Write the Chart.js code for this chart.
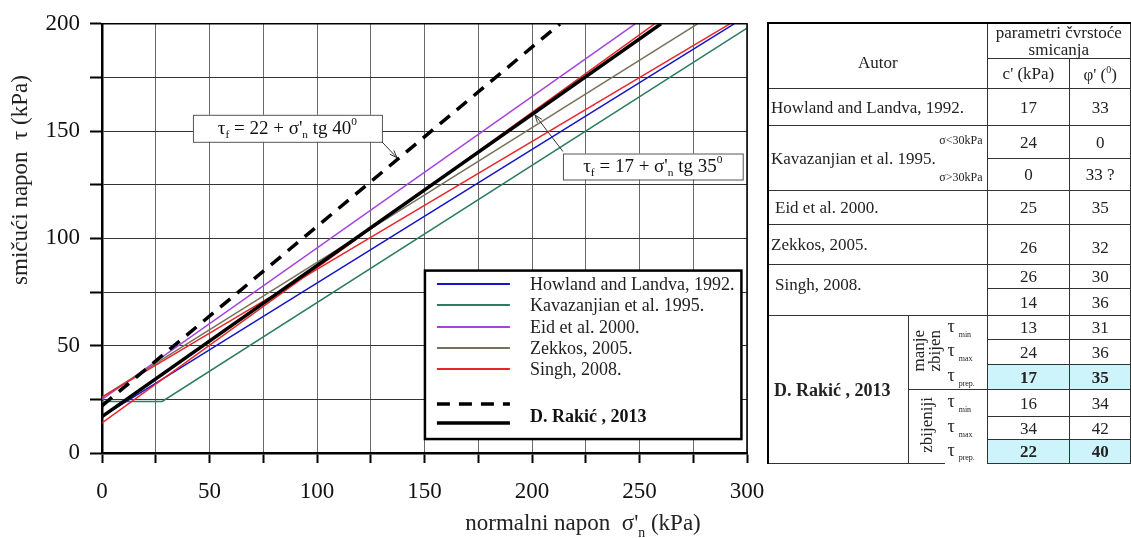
<!DOCTYPE html>
<html>
<head>
<meta charset="utf-8">
<script src="https://cdn.jsdelivr.net/npm/chart.js@4.4.1/dist/chart.umd.min.js"></script>
<style>
  body { margin: 0; background: #fff; width: 1131px; height: 538px; overflow: hidden; font-family: 'Liberation Serif', serif; }
  #wrap { position: absolute; left: 0; top: 0; width: 800px; height: 538px; }
  #tab { position: absolute; left: 767px; top: 22px; border-collapse: collapse; table-layout: fixed; font-size: 17px; color: #222; border-left: 2px solid #000; border-top: 2px solid #000; }
  #tab td { border: 1px solid #333; padding: 0; text-align: center; vertical-align: middle; line-height: 1; white-space: nowrap; }
  #tab td.l { text-align: left; padding-left: 2px; }
  #tab td.kav { position: relative; }
  #tab .s1, #tab .s2 { position: absolute; right: 4px; font-size: 12px; }
  #tab .s1 { top: 8px; }
  #tab .s2 { bottom: 7px; }
  #tab td.b { font-weight: bold; text-align: left; padding-left: 5px; font-size: 18px; }
  #tab td.v { border-right: none; font-size: 17px; line-height: 0.95; }
  #tab td.v span { display: inline-block; writing-mode: vertical-rl; transform: rotate(180deg); text-align: center; }
  #tab td.t { border-left: none; border-top: none; border-bottom: none; font-size: 18px; text-align: left; padding-left: 2px; }
  #tab td.t sub { font-size: 8px; margin-left: 4px; }
  #tab td.tt { border-top: 1px solid #333; }
  #tab td.hl { background: #cdf4fb; font-weight: bold; }
</style>
</head>
<body>
<div id="wrap"><canvas id="grafik" width="800" height="538"></canvas></div>

<table id="tab">
  <colgroup><col style="width:141px"><col style="width:37px"><col style="width:42px"><col style="width:83px"><col style="width:61px"></colgroup>
  <tr style="height:35px"><td colspan="3" rowspan="2" style="padding-top:12px">Autor</td><td colspan="2" style="line-height:1.0">parametri čvrstoće<br>smicanja</td></tr>
  <tr style="height:30px"><td>c' (kPa)</td><td>φ' (<sup style="font-size:10px">0</sup>)</td></tr>
  <tr style="height:37px"><td colspan="3" class="l">Howland and Landva, 1992.</td><td>17</td><td>33</td></tr>
  <tr style="height:33px"><td colspan="3" rowspan="2" class="l kav"><span class="s1">σ&lt;30kPa</span>Kavazanjian et al. 1995.<span class="s2">σ&gt;30kPa</span></td><td>24</td><td>0</td></tr>
  <tr style="height:32px"><td>0</td><td>33 ?</td></tr>
  <tr style="height:34px"><td colspan="3" class="l" style="padding-left:6px">Eid et al. 2000.</td><td>25</td><td>35</td></tr>
  <tr style="height:40px"><td colspan="3" class="l">Zekkos, 2005.</td><td style="padding-top:6px">26</td><td style="padding-top:6px">32</td></tr>
  <tr style="height:24px"><td colspan="3" rowspan="2" class="l" style="vertical-align:top;padding-top:11px;padding-left:6px">Singh, 2008.</td><td>26</td><td>30</td></tr>
  <tr style="height:27px"><td>14</td><td>36</td></tr>
  <tr style="height:24px"><td rowspan="6" class="b">D. Rakić , 2013</td><td rowspan="3" class="v"><span>manje<br>zbijen</span></td><td class="t">τ<sub>min</sub></td><td>13</td><td>31</td></tr>
  <tr style="height:25px"><td class="t">τ<sub>max</sub></td><td>24</td><td>36</td></tr>
  <tr style="height:25px"><td class="t">τ<sub>prep.</sub></td><td class="hl">17</td><td class="hl">35</td></tr>
  <tr style="height:27px"><td rowspan="3" class="v" style="border-top:1px solid #333"><span>zbijeniji</span></td><td class="t tt">τ<sub>min</sub></td><td>16</td><td>34</td></tr>
  <tr style="height:23px"><td class="t">τ<sub>max</sub></td><td>34</td><td>42</td></tr>
  <tr style="height:24px"><td class="t">τ<sub>prep.</sub></td><td class="hl">22</td><td class="hl">40</td></tr>
</table>

<script>
// nazivi autora (legenda)
const autori = ['Howland and Landva, 1992.', 'Kavazanjian et al. 1995.', 'Eid et al. 2000.', 'Zekkos, 2005.', 'Singh, 2008.', 'D. Rakić , 2013'];

// linije loma ocitane sa slike (sigma'n, tau)
const howlandX = [0, 294];
const howlandY = [17, 200];
const kavazanjianX = [0, 28, 300];
const kavazanjianY = [24, 24, 198];
const eidX = [0, 248];
const eidY = [25, 200];
const zekkosX = [0, 277];
const zekkosY = [26, 200];
const singh1X = [0, 292];
const singh1Y = [26, 200];
const singh2X = [0, 257];
const singh2Y = [14, 200];
const rakicManjeX = [0, 260];
const rakicManjeY = [17, 200];
const rakicZbijeniX = [0, 213];
const rakicZbijeniY = [22, 200];

// podela osa
const xOznake = [0, 50, 100, 150, 200, 250, 300];
const yOznake = [0, 50, 100, 150, 200];

const FONT = "'Liberation Serif', 'Times New Roman', serif";
Chart.defaults.font.family = FONT;

const tacke = (xs, ys) => xs.map((x, i) => ({ x: x, y: ys[i] }));

const linija = (podaci, boja, debljina, red, crtice) => ({
  data: podaci,
  showLine: true,
  borderColor: boja,
  backgroundColor: boja,
  borderWidth: debljina,
  borderDash: crtice || [],
  pointRadius: 0,
  order: red,
});

// tekst sa indeksima: delovi [tekst, 'sub' | 'sup' | '']
const sirina = (ctx, delovi, vel) => {
  let w = 0;
  delovi.forEach(d => {
    const s = d[1] ? vel * 0.6 : vel;
    ctx.font = s + 'px ' + FONT;
    w += ctx.measureText(d[0]).width;
  });
  return w;
};

const pisi = (ctx, x, y, delovi, vel, bold) => {
  let px = x;
  delovi.forEach(d => {
    const s = d[1] ? vel * 0.6 : vel;
    ctx.font = (bold ? 'bold ' : '') + s + 'px ' + FONT;
    let dy = 0;
    if (d[1] === 'sub') dy = vel * 0.3;
    if (d[1] === 'sup') dy = -vel * 0.4;
    ctx.fillText(d[0], px, y + dy);
    px += ctx.measureText(d[0]).width;
  });
};

const strelica = (ctx, x1, y1, x2, y2) => {
  ctx.save();
  ctx.strokeStyle = '#333';
  ctx.lineWidth = 1;
  ctx.beginPath();
  ctx.moveTo(x1, y1);
  ctx.lineTo(x2, y2);
  const a = Math.atan2(y2 - y1, x2 - x1);
  ctx.moveTo(x2 - 8 * Math.cos(a - 0.35), y2 - 8 * Math.sin(a - 0.35));
  ctx.lineTo(x2, y2);
  ctx.lineTo(x2 - 8 * Math.cos(a + 0.35), y2 - 8 * Math.sin(a + 0.35));
  ctx.stroke();
  ctx.restore();
};

const okvirTekst = (ctx, xs, ys, x1, x2, yc, h, delovi, vel) => {
  const l = xs.getPixelForValue(x1);
  const r = xs.getPixelForValue(x2);
  const c = ys.getPixelForValue(yc);
  ctx.fillStyle = '#fff';
  ctx.fillRect(l, c - h / 2, r - l, h);
  ctx.strokeStyle = '#555';
  ctx.lineWidth = 1;
  ctx.strokeRect(l + 0.5, c - h / 2 + 0.5, r - l, h);
  ctx.fillStyle = '#111';
  ctx.textBaseline = 'middle';
  ctx.textAlign = 'left';
  const w = sirina(ctx, delovi, vel);
  pisi(ctx, (l + r) / 2 - w / 2, c + 1, delovi, vel);
};

const dodaci = {
  id: 'dodaci',
  afterDatasetsDraw(chart) {
    const ctx = chart.ctx;
    const xs = chart.scales.x;
    const ys = chart.scales.y;
    const ca = chart.chartArea;
    ctx.save();

    // okvir dijagrama
    ctx.strokeStyle = '#000';
    ctx.lineWidth = 1.5;
    ctx.beginPath();
    ctx.moveTo(ca.left, ca.top);
    ctx.lineTo(ca.right, ca.top);
    ctx.lineTo(ca.right, ca.bottom);
    ctx.stroke();

    // jednacine
    okvirTekst(ctx, xs, ys, 42.3, 130.2, 151.3, 27,
      [['τ', ''], ['f', 'sub'], [" = 22 + σ'", ''], ['n', 'sub'], [' tg 40', ''], ['0', 'sup']], 19);
    strelica(ctx, xs.getPixelForValue(130.2), ys.getPixelForValue(145), xs.getPixelForValue(137.2), ys.getPixelForValue(137.6));

    okvirTekst(ctx, xs, ys, 214.4, 298, 133.5, 26,
      [['τ', ''], ['f', 'sub'], [' = 17 + σ\'', ''], ['n', 'sub'], [' tg 35', ''], ['0', 'sup']], 19);
    strelica(ctx, xs.getPixelForValue(214.4), ys.getPixelForValue(140.5), xs.getPixelForValue(201.4), ys.getPixelForValue(157.5));

    // legenda
    const lx = xs.getPixelForValue(150.2);
    const rx = xs.getPixelForValue(297.4);
    const ty = ys.getPixelForValue(85);
    const by = ys.getPixelForValue(6.5);
    ctx.fillStyle = '#fff';
    ctx.fillRect(lx, ty, rx - lx, by - ty);
    ctx.strokeStyle = '#000';
    ctx.lineWidth = 2.5;
    ctx.strokeRect(lx, ty, rx - lx, by - ty);

    const ds = chart.data.datasets;
    const redovi = [284, 305, 327, 348, 369];
    ctx.textBaseline = 'middle';
    ctx.textAlign = 'left';
    for (let i = 0; i < 5; i++) {
      ctx.strokeStyle = ds[i].borderColor;
      ctx.lineWidth = 1.8;
      ctx.beginPath();
      ctx.moveTo(lx + 12, redovi[i]);
      ctx.lineTo(lx + 85, redovi[i]);
      ctx.stroke();
      ctx.fillStyle = '#222';
      ctx.font = '18px ' + FONT;
      ctx.fillText(autori[i], lx + 105, redovi[i] + 1);
    }
    ctx.strokeStyle = '#000';
    ctx.lineWidth = 3.5;
    ctx.setLineDash([13, 9]);
    ctx.beginPath();
    ctx.moveTo(lx + 12, 404);
    ctx.lineTo(lx + 85, 404);
    ctx.stroke();
    ctx.setLineDash([]);
    ctx.beginPath();
    ctx.moveTo(lx + 12, 423);
    ctx.lineTo(lx + 85, 423);
    ctx.stroke();
    ctx.fillStyle = '#111';
    ctx.font = 'bold 18px ' + FONT;
    ctx.fillText(autori[5], lx + 105, 417);

    // nazivi osa
    ctx.fillStyle = '#222';
    ctx.textBaseline = 'alphabetic';
    const xNaziv = [['normalni napon  σ\'', ''], ['n', 'sub'], [' (kPa)', '']];
    const wx = sirina(ctx, xNaziv, 23);
    pisi(ctx, 583 - wx / 2, 530, xNaziv, 23);

    ctx.translate(27, 180);
    ctx.rotate(-Math.PI / 2);
    const yNaziv = [['smičući napon  τ (kPa)', '']];
    const wy = sirina(ctx, yNaziv, 23);
    pisi(ctx, -wy / 2, 0, yNaziv, 23);
    ctx.restore();
  },
};

const osa = {
  font: { family: FONT, size: 23 },
  color: '#111',
};

new Chart(document.getElementById('grafik'), {
  type: 'scatter',
  data: {
    datasets: [
      linija(tacke(howlandX, howlandY), '#1515c8', 1.5, 5),
      linija(tacke(kavazanjianX, kavazanjianY), '#2b7d5e', 1.5, 6),
      linija(tacke(eidX, eidY), '#a444e0', 1.5, 4),
      linija(tacke(zekkosX, zekkosY), '#77705a', 1.5, 3),
      linija(tacke(singh1X, singh1Y), '#e8262a', 1.5, 2),
      linija(tacke(singh2X, singh2Y), '#e8262a', 1.5, 2),
      linija(tacke(rakicZbijeniX, rakicZbijeniY), '#000', 3.5, 1, [13, 9]),
      linija(tacke(rakicManjeX, rakicManjeY), '#000', 3.5, 0),
    ],
  },
  options: {
    responsive: false,
    animation: false,
    devicePixelRatio: 1,
    layout: { padding: { left: 0, right: 53, top: 20, bottom: 0 } },
    plugins: { legend: { display: false }, tooltip: { enabled: false } },
    scales: {
      x: {
        type: 'linear',
        min: 0,
        max: 300,
        ticks: {
          stepSize: 25,
          autoSkip: false,
          maxRotation: 0,
          padding: 15,
          font: osa.font,
          color: osa.color,
          callback: v => (xOznake.includes(v) ? v : ''),
        },
        grid: { color: '#6a6a6a', lineWidth: 1, tickLength: 10, tickColor: '#000', tickWidth: 2 },
        border: { color: '#000', width: 2.5 },
        afterFit: s => { s.height = 85; },
      },
      y: {
        type: 'linear',
        min: 0,
        max: 200,
        ticks: {
          stepSize: 25,
          autoSkip: false,
          padding: 10,
          font: osa.font,
          color: osa.color,
          callback: v => (yOznake.includes(v) ? v : ''),
        },
        grid: { color: '#333', lineWidth: 1, tickLength: 12, tickColor: '#000', tickWidth: 2 },
        border: { color: '#000', width: 2.5 },
        afterFit: s => { s.width = 102; },
      },
    },
  },
  plugins: [dodaci],
});
</script>
</body>
</html>
